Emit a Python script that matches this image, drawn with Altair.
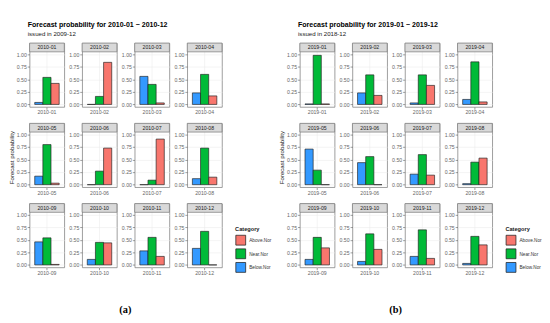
import altair as alt
import pandas as pd

FONT = "Liberation Sans"

categories = ["Below.Nor", "Near.Nor", "Above.Nor"]
legend_order = ["Above.Nor", "Near.Nor", "Below.Nor"]
legend_colors = ["#F8766D", "#00BA38", "#3399FF"]

months_a = ["2010-01", "2010-02", "2010-03", "2010-04", "2010-05", "2010-06",
            "2010-07", "2010-08", "2010-09", "2010-10", "2010-11", "2010-12"]
below_a = [0.04, 0.00, 0.56, 0.23, 0.17, 0.00, 0.00, 0.12, 0.46, 0.11, 0.28, 0.33]
near_a = [0.54, 0.16, 0.40, 0.60, 0.80, 0.27, 0.09, 0.73, 0.54, 0.45, 0.55, 0.67]
above_a = [0.42, 0.84, 0.03, 0.17, 0.03, 0.73, 0.91, 0.15, 0.01, 0.44, 0.17, 0.00]

months_b = ["2019-01", "2019-02", "2019-03", "2019-04", "2019-05", "2019-06",
            "2019-07", "2019-08", "2019-09", "2019-10", "2019-11", "2019-12"]
below_b = [0.01, 0.23, 0.03, 0.10, 0.71, 0.44, 0.21, 0.02, 0.11, 0.07, 0.17, 0.03]
near_b = [0.98, 0.59, 0.59, 0.85, 0.29, 0.56, 0.60, 0.45, 0.55, 0.62, 0.70, 0.57]
above_b = [0.01, 0.18, 0.38, 0.05, 0.00, 0.00, 0.19, 0.53, 0.34, 0.31, 0.13, 0.40]

title_a = "Forecast probability for 2010-01 ~ 2010-12"
subtitle_a = "issued in 2009-12"
title_b = "Forecast probability for 2019-01 ~ 2019-12"
subtitle_b = "issued in 2018-12"
y_title = "Forecast probability"
y_ticks = [0, 0.25, 0.5, 0.75, 1]

W, H = 37, 68
YMIN, YMAX = -0.05, 1.224
STRIP_LO = 1.05
GRID_H = 244
PANEL_W = 268
NOSTROKE = alt.ViewBackground(stroke="transparent")


def long_df(months, below, near, above):
    rows = []
    for m, b, n, a in zip(months, below, near, above):
        rows.append({"month": m, "cat": "Below.Nor", "prob": b})
        rows.append({"month": m, "cat": "Near.Nor", "prob": n})
        rows.append({"month": m, "cat": "Above.Nor", "prob": a})
    return pd.DataFrame(rows)


def panel(months, below, near, above, title, subtitle, label):
    df = long_df(months, below, near, above)
    base = alt.Chart()
    yscale = alt.Scale(domain=[YMIN, YMAX], nice=False, zero=False)
    yaxis = alt.Axis(values=y_ticks, format=".2f", labelOverlap=False, title=None)
    bars = base.mark_bar(stroke="#222222", strokeWidth=0.7).encode(
        x=alt.X("month:N", title=None,
                scale=alt.Scale(paddingInner=0, paddingOuter=0.21),
                axis=alt.Axis(labelAngle=0, grid=True, bandPosition=0.5)),
        xOffset=alt.XOffset("cat:N", sort=categories,
                            scale=alt.Scale(paddingInner=0, paddingOuter=0)),
        y=alt.Y("prob:Q", title=None, scale=yscale, axis=yaxis),
        y2=alt.datum(0),
        color=alt.Color("cat:N",
                        scale=alt.Scale(domain=legend_order, range=legend_colors),
                        legend=alt.Legend(title="Category", orient="none",
                                          legendX=219, legendY=195)),
    )
    strip = base.mark_rect(fill="#D9D9D9", stroke="#7F7F7F", strokeWidth=0.8).encode(
        x=alt.value(0), x2=alt.value(W),
        y=alt.YDatum(STRIP_LO, axis=yaxis, scale=yscale), y2=alt.datum(YMAX),
    ).transform_filter(alt.datum.cat == "Near.Nor")
    stext = base.mark_text(fontSize=5.5, color="#1A1A1A", font=FONT).encode(
        x=alt.value(W / 2),
        y=alt.YDatum((STRIP_LO + YMAX) / 2, axis=yaxis, scale=yscale),
        text="month:N",
    ).transform_filter(alt.datum.cat == "Near.Nor")
    layer = alt.layer(bars, strip, stext).properties(width=W, height=H)
    facet = layer.facet(
        facet=alt.Facet("month:N", header=alt.Header(labels=False, title=None,
                                                     labelFontSize=0.1, labelPadding=0,
                                                     labelExpr="''")),
        columns=4, data=df, spacing={"row": 6.5, "column": 3},
    ).resolve_scale(x="independent", xOffset="independent").resolve_axis(y="independent")

    yt = alt.Chart(pd.DataFrame({"t": [y_title]})).mark_text(
        angle=270, fontSize=6.5, color="#1A1A1A", font=FONT
    ).encode(text="t:N").properties(width=6, height=GRID_H, view=NOSTROKE)

    tdf = pd.DataFrame({"t": [title], "s": [subtitle]})
    ttl = alt.Chart(tdf).mark_text(
        fontSize=7.5, fontWeight="bold", font=FONT, color="#000000", align="left"
    ).encode(text="t:N", x=alt.value(20), y=alt.value(6.5))
    sub = alt.Chart(tdf).mark_text(
        fontSize=6.5, font=FONT, color="#1A1A1A", align="left"
    ).encode(text="s:N", x=alt.value(20), y=alt.value(16.5))
    head = alt.layer(ttl, sub).properties(width=PANEL_W, height=24.5, view=NOSTROKE)

    lab = alt.Chart(pd.DataFrame({"t": [label]})).mark_text(
        fontSize=11, font="Liberation Serif", fontWeight="bold", color="#000000"
    ).encode(text="t:N", x=alt.value(124), y=alt.value(35)).properties(
        width=PANEL_W, height=40, view=NOSTROKE)

    top = alt.hconcat(yt, facet, spacing=0).resolve_legend(color="independent")
    return alt.vconcat(head, top, lab, spacing=0).resolve_legend(color="independent")


pa = panel(months_a, below_a, near_a, above_a, title_a, subtitle_a, "(a)")
pb = panel(months_b, below_b, near_b, above_b, title_b, subtitle_b, "(b)")

chart = alt.hconcat(pa, pb, spacing=7).resolve_legend(color="independent").properties(
    padding=0
).configure_view(stroke="#7F7F7F", strokeWidth=0.8).configure_axis(
    labelFont=FONT, labelFontSize=5.5, labelColor="#666666", labelPadding=1,
    tickSize=2.5, tickWidth=0.6, tickColor="#555555",
    gridColor="#EBEBEB", gridWidth=0.6, domain=False,
).configure_header(labels=False).configure_headerFacet(labels=False).configure_legend(
    titleFont=FONT, titleFontSize=6, titleFontWeight="bold", titleColor="#1A1A1A",
    labelFont=FONT, labelFontSize=5, labelColor="#333333",
    symbolType="square", symbolSize=110, symbolStrokeColor="#222222",
    symbolStrokeWidth=0.8, symbolOpacity=1, rowPadding=0.5, titlePadding=3,
    labelOffset=3,
)

chart.save("out.html", embed_options={"renderer": "svg", "actions": False})
